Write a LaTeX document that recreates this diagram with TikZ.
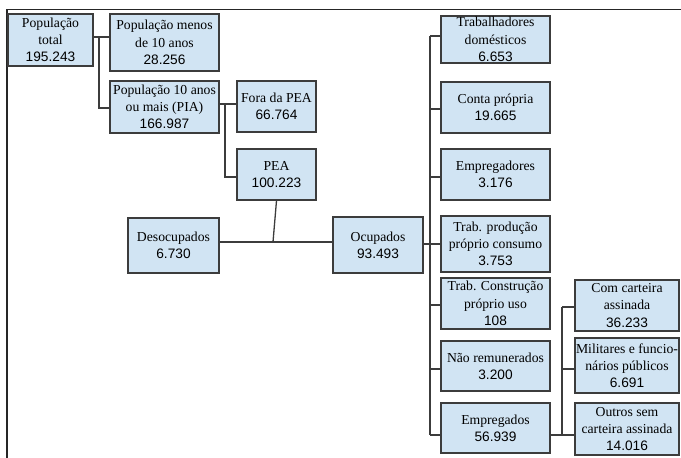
\documentclass[tikz,border=0pt]{standalone}
\usepackage{fontspec}
\setmainfont{Liberation Serif}
\newfontfamily\numf{Liberation Sans}
\definecolor{boxfill}{RGB}{209,228,243}
\definecolor{edge}{RGB}{60,60,60}
\tikzset{
  box/.style={draw=edge, line width=1.4pt, fill=boxfill, inner sep=0pt, align=center,
    font=\fontsize{13.7}{17.2}\selectfont},
  conn/.style={draw=edge, line width=1.3pt},
  frame/.style={draw=black!85, line width=1.8pt}
}
\newcommand{\bx}[7]{% name, x1, y1, x2, y2, text
  \node[box, minimum width=#4pt-#2pt, minimum height=#5pt-#3pt] (#1) at ({(#2+#4)/2},{(#3+#5)/2}) {#6\\{\numf #7}};}
\begin{document}
\begin{tikzpicture}[x=1pt,y=-1pt]
\useasboundingbox (0,0) rectangle (681,458);
\fill[white] (0,0) rectangle (681,458);
\draw[frame] (7,458) -- (7,9.5) -- (681,9.5);
% boxes
\bx{total}{8}{14}{93}{66}{População\\total}{195.243}
\bx{menos}{110}{14}{219}{71}{População menos\\de 10 anos}{28.256}
\bx{pia}{110}{81}{219}{133}{População 10 anos\\ou mais (PIA)}{166.987}
\bx{fora}{237}{81}{316}{132}{Fora da PEA}{66.764}
\bx{pea}{237}{149}{316}{200}{PEA}{100.223}
\bx{deso}{128}{218}{219}{273}{Desocupados}{6.730}
\bx{ocup}{333}{217}{423}{273}{Ocupados}{93.493}
\bx{td}{441}{16}{550}{63}{Trabalhadores\\domésticos}{6.653}
\bx{cp}{441}{82}{550}{133}{Conta própria}{19.665}
\bx{emp}{441}{149}{550}{200}{Empregadores}{3.176}
\bx{tp}{441}{216}{550}{272}{Trab. produção\\próprio consumo}{3.753}
\bx{tc}{441}{278}{550}{329}{Trab. Construção\\próprio uso}{108}
\bx{nr}{441}{341}{550}{391}{Não remunerados}{3.200}
\bx{empd}{441}{403}{550}{453}{Empregados}{56.939}
\bx{com}{575}{280}{679}{331}{Com carteira\\assinada}{36.233}
\bx{mil}{575}{338}{679}{393}{Militares e funcio-\\nários públicos}{6.691}
\bx{out}{575}{403}{679}{455}{Outros sem\\carteira assinada}{14.016}
% junctions
\coordinate (j1) at (99,37);
\coordinate (j2) at (225,104);
\coordinate (j3) at (273,242);
\coordinate (spT) at (430,36);
\coordinate (spB) at (430,435);
\coordinate (sT) at (562,307);
\coordinate (sB) at (562,435);
% connectors
\draw[conn] (total.east |- j1) -- (menos.west |- j1);
\draw[conn] (j1) |- (pia.west |- 0,108);
\draw[conn] (pia.east |- j2) -- (fora.west |- j2);
\draw[conn] (j2) |- (pea.west |- 0,177);
\draw[conn] (pea.south) -- (j3);
\draw[conn] (deso.east |- j3) -- (ocup.west |- j3);
\draw[conn] (ocup.east |- 0,244) -- (spT |- 0,244);
\draw[conn] (spT) -- (spB);
\draw[conn] (spT) -- (td.west |- spT);
\draw[conn] (spT |- 0,109) -- (cp.west |- 0,109);
\draw[conn] (spT |- 0,177) -- (emp.west |- 0,177);
\draw[conn] (spT |- 0,244) -- (tp.west |- 0,244);
\draw[conn] (spT |- 0,305) -- (tc.west |- 0,305);
\draw[conn] (spT |- 0,369) -- (nr.west |- 0,369);
\draw[conn] (spB) -- (empd.west |- spB);
\draw[conn] (empd.east |- sB) -- (sB);
\draw[conn] (sT) -- (sB);
\draw[conn] (sT) -- (com.west |- sT);
\draw[conn] (sT |- 0,369) -- (mil.west |- 0,369);
\draw[conn] (sB) -- (out.west |- sB);
\end{tikzpicture}
\end{document}
